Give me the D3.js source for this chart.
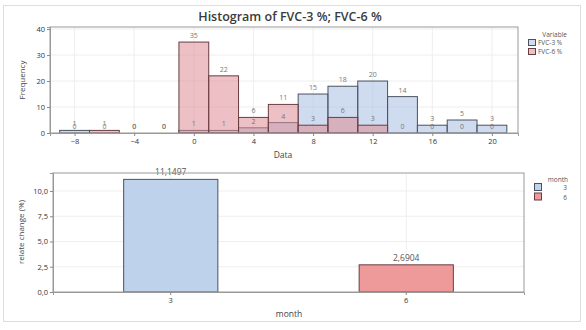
<!DOCTYPE html>
<html>
<head>
<meta charset="utf-8">
<script src="https://d3js.org/d3.v7.min.js"></script>
<style>
  body { margin: 0; background: #fff; }
  text { font-family: "Open Sans", "Noto Sans", sans-serif; fill: #444; }
</style>
</head>
<body>
<script>
// histogram bins (centres, width 2)
var binMids = [-8, -6, -4, -2, 0, 2, 4, 6, 8, 10, 12, 14, 16, 18, 20];
var fvc3 = [1, 0, 0, 0, 1, 1, 2, 4, 15, 18, 20, 14, 3, 5, 3];
var fvc6 = [0, 1, 0, 0, 35, 22, 6, 11, 3, 6, 3, 0, 0, 0, 0];
var histTicksX = [-8, -4, 0, 4, 8, 12, 16, 20];
var histTicksY = [0, 10, 20, 30, 40];
var seriesNames = ["FVC-3 %", "FVC-6 %"];

// bar chart
var months = ["3", "6"];
var relChange = [11.1497, 2.6904];
var barTicksY = [0, 2.5, 5, 7.5, 10];

var W = 586, H = 330;
var svg = d3.select("body").append("svg").attr("width", W).attr("height", H);

svg.append("rect").attr("x", 3.5).attr("y", 5.5).attr("width", 577).attr("height", 316)
   .attr("fill", "none").attr("stroke", "#ddd");

var fmt = function (v) { return d3.format(".1f")(v).replace(".", ","); };

// ---------- histogram ----------
var hx = d3.scaleLinear().domain([-9.65, 21.75]).range([50, 518]);
var hy = d3.scaleLinear().domain([0, 40.8]).range([133, 27]);

svg.append("text").attr("x", 290).attr("y", 21).attr("text-anchor", "middle")
   .attr("font-size", 12.5).attr("font-weight", 600).style("fill", "#3a3a3a")
   .text("Histogram of FVC-3 %; FVC-6 %");

var g1 = svg.append("g");
g1.selectAll(".vg").data(histTicksX).enter().append("line")
  .attr("x1", function (d) { return hx(d); }).attr("x2", function (d) { return hx(d); })
  .attr("y1", 27).attr("y2", 133).attr("stroke", "#eee");
g1.selectAll(".hg").data(histTicksY.slice(1)).enter().append("line")
  .attr("x1", 50).attr("x2", 518)
  .attr("y1", function (d) { return hy(d); }).attr("y2", function (d) { return hy(d); })
  .attr("stroke", "#eee");

var series = [
  {vals: fvc3, fill: "#a8c0e3", stroke: "#4a5260"},
  {vals: fvc6, fill: "#dd8c93", stroke: "#6a3c42"}
];
series.forEach(function (s) {
  g1.selectAll(null).data(binMids).enter().append("rect")
    .attr("x", function (d) { return hx(d - 1); })
    .attr("width", function (d) { return hx(d + 1) - hx(d - 1); })
    .attr("y", function (d, i) { return hy(s.vals[i]); })
    .attr("height", function (d, i) { return hy(0) - hy(s.vals[i]); })
    .attr("fill", s.fill).attr("fill-opacity", 0.55)
    .attr("stroke", s.stroke).attr("stroke-width", 1);
});
series.forEach(function (s) {
  g1.selectAll(null).data(binMids).enter().append("text")
    .attr("x", function (d) { return hx(d); })
    .attr("y", function (d, i) { return hy(s.vals[i]) - 4; })
    .attr("text-anchor", "middle").attr("font-size", 7).style("fill", "#777")
    .text(function (d, i) { return s.vals[i]; });
});

g1.append("rect").attr("x", 50).attr("y", 27).attr("width", 468).attr("height", 106)
  .attr("fill", "none").attr("stroke", "#999");

var ax1 = g1.append("g").attr("transform", "translate(0,133)")
  .call(d3.axisBottom(hx).tickValues(histTicksX).tickSize(3).tickPadding(3));
var ay1 = g1.append("g").attr("transform", "translate(50,0)")
  .call(d3.axisLeft(hy).tickValues(histTicksY).tickSize(3).tickPadding(2));
[ax1, ay1].forEach(function (a) {
  a.select(".domain").attr("stroke", "#999");
  a.selectAll(".tick line").attr("stroke", "#888");
  a.selectAll("text").attr("font-size", 7.5).style("fill", "#333");
});

g1.append("text").attr("x", 283).attr("y", 158).attr("text-anchor", "middle")
  .attr("font-size", 8.5).text("Data");
g1.append("text").attr("transform", "translate(25,80) rotate(-90)")
  .attr("text-anchor", "middle").attr("font-size", 8).text("Frequency");

// legend
g1.append("text").attr("x", 567).attr("y", 37).attr("text-anchor", "end")
  .attr("font-size", 6.5).style("fill", "#555").text("Variable");
series.forEach(function (s, i) {
  g1.append("rect").attr("x", 528.5).attr("y", 39.5 + i * 9).attr("width", 7).attr("height", 6)
    .attr("fill", s.fill).attr("fill-opacity", 0.55).attr("stroke", s.stroke);
  g1.append("text").attr("x", 538).attr("y", 45 + i * 9).attr("font-size", 6.5)
    .style("fill", "#555").text(seriesNames[i]);
});

// ---------- bar chart ----------
var bx = d3.scaleBand().domain(months).range([53, 524]);
var by = d3.scaleLinear().domain([0, 11.78]).range([292, 173]);
var barFills = ["#bed2ec", "#ee9a9a"];
var barStrokes = ["#4a5260", "#6a3c42"];

var g2 = svg.append("g");
g2.selectAll(null).data(barTicksY.slice(1)).enter().append("line")
  .attr("x1", 53).attr("x2", 524)
  .attr("y1", function (d) { return by(d); }).attr("y2", function (d) { return by(d); })
  .attr("stroke", "#eee");
g2.selectAll(null).data(months).enter().append("line")
  .attr("x1", function (d) { return bx(d) + bx.bandwidth() / 2; })
  .attr("x2", function (d) { return bx(d) + bx.bandwidth() / 2; })
  .attr("y1", 173).attr("y2", 292).attr("stroke", "#eee");

var bw = bx.bandwidth() * 0.4;
g2.selectAll(null).data(months).enter().append("rect")
  .attr("x", function (d) { return bx(d) + bx.bandwidth() / 2 - bw / 2; })
  .attr("width", bw)
  .attr("y", function (d, i) { return by(relChange[i]); })
  .attr("height", function (d, i) { return by(0) - by(relChange[i]); })
  .attr("fill", function (d, i) { return barFills[i]; })
  .attr("stroke", function (d, i) { return barStrokes[i]; });
g2.selectAll(null).data(months).enter().append("text")
  .attr("x", function (d) { return bx(d) + bx.bandwidth() / 2; })
  .attr("y", function (d, i) { return by(relChange[i]) - 4; })
  .attr("text-anchor", "middle").attr("font-size", 8.5).style("fill", "#555")
  .text(function (d, i) { return String(relChange[i]).replace(".", ","); });

g2.append("rect").attr("x", 53).attr("y", 173).attr("width", 471).attr("height", 119)
  .attr("fill", "none").attr("stroke", "#999");

var ax2 = g2.append("g").attr("transform", "translate(0,292)")
  .call(d3.axisBottom(bx).tickSize(3).tickPadding(3));
var ay2 = g2.append("g").attr("transform", "translate(53,0)")
  .call(d3.axisLeft(by).tickValues(barTicksY).tickFormat(fmt).tickSize(3).tickPadding(2));
[ax2, ay2].forEach(function (a) {
  a.select(".domain").attr("stroke", "#999");
  a.selectAll(".tick line").attr("stroke", "#888");
  a.selectAll("text").attr("font-size", 7.5).style("fill", "#333");
});

g2.append("text").attr("x", 289).attr("y", 317).attr("text-anchor", "middle")
  .attr("font-size", 8.5).text("month");
g2.append("text").attr("transform", "translate(24,232) rotate(-90)")
  .attr("text-anchor", "middle").attr("font-size", 8).text("relate change (%)");

g2.append("text").attr("x", 568).attr("y", 182).attr("text-anchor", "end")
  .attr("font-size", 6.5).style("fill", "#555").text("month");
months.forEach(function (m, i) {
  g2.append("rect").attr("x", 534.5).attr("y", 183.5 + i * 9.5).attr("width", 7).attr("height", 7)
    .attr("fill", barFills[i]).attr("stroke", barStrokes[i]);
  g2.append("text").attr("x", 567).attr("y", 190 + i * 9.5).attr("text-anchor", "end")
    .attr("font-size", 6.5).style("fill", "#555").text(m);
});
</script>
</body>
</html>
